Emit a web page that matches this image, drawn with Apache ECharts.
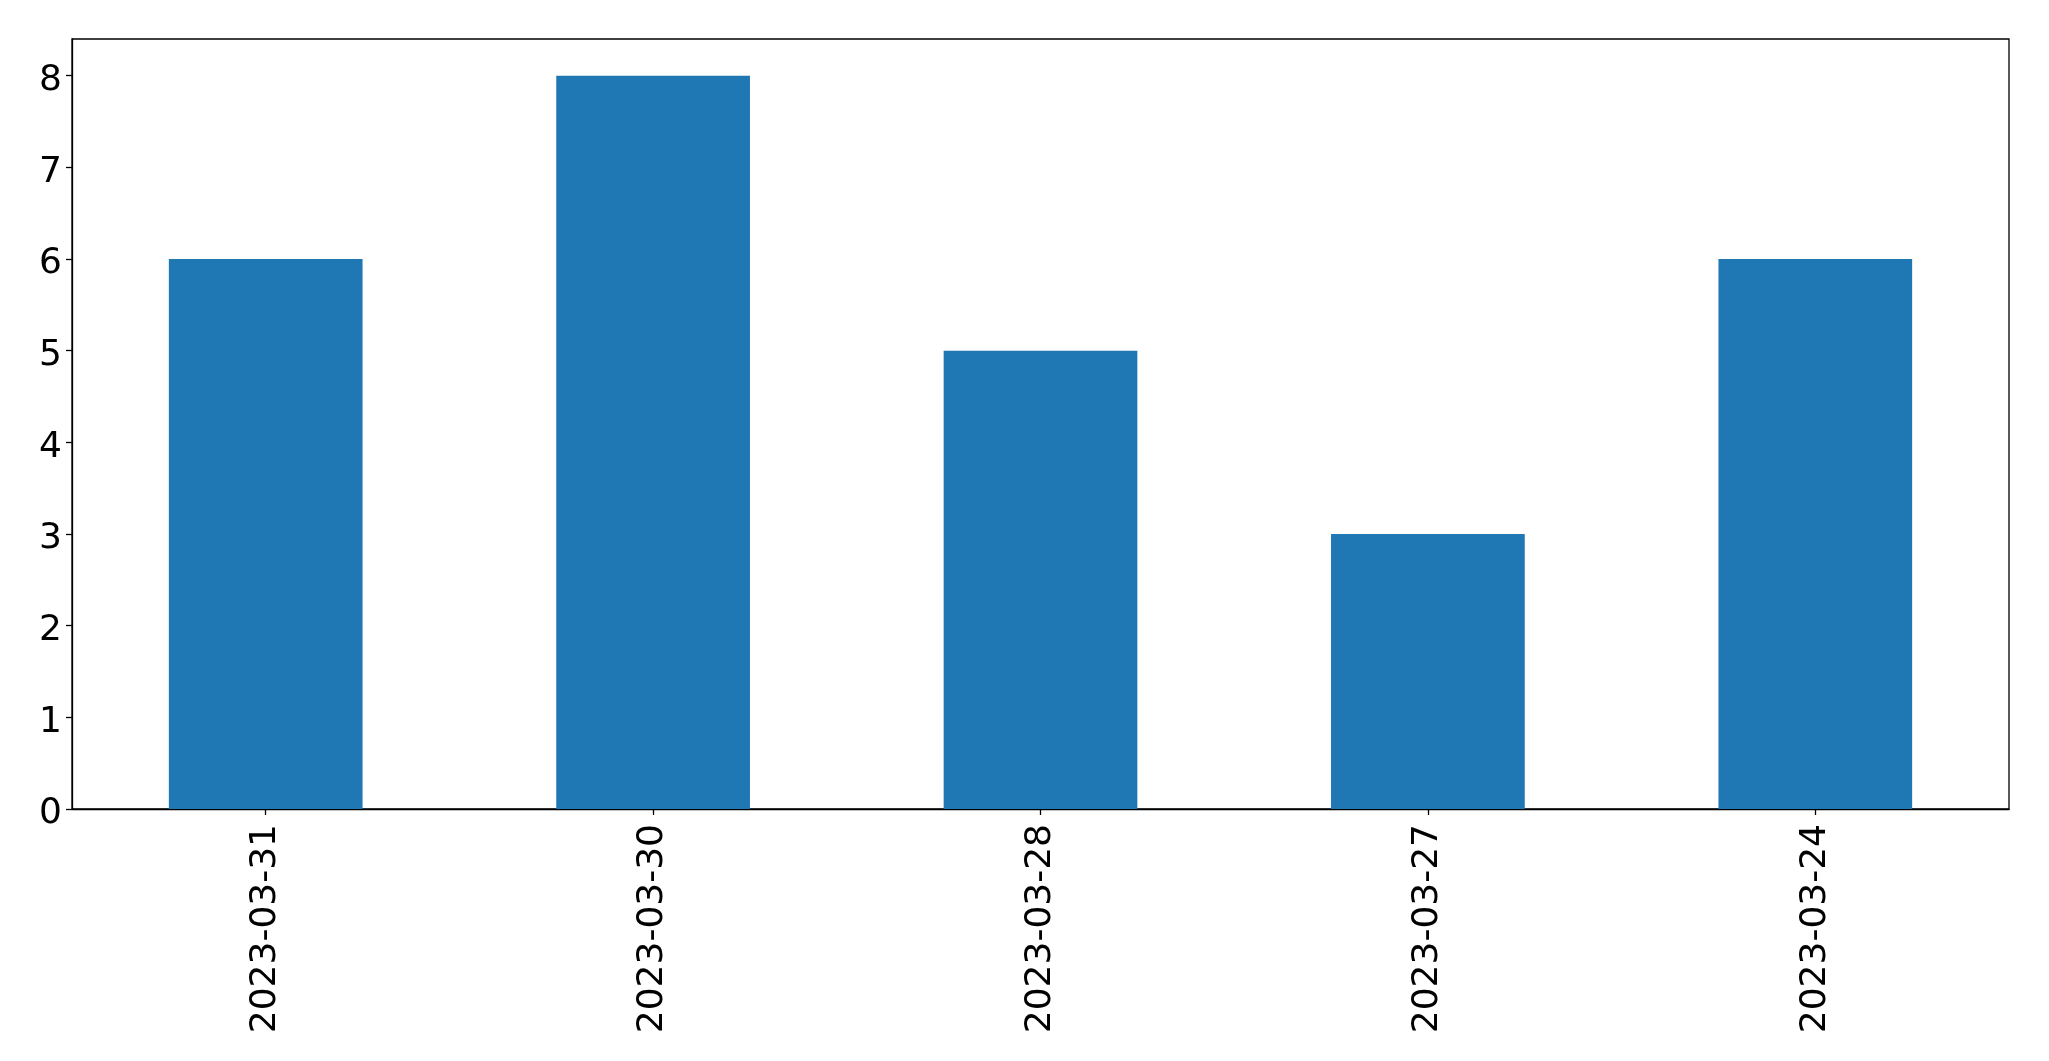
<!DOCTYPE html>
<html>
<head>
<meta charset="utf-8">
<script src="https://cdn.jsdelivr.net/npm/echarts@6/dist/echarts.min.js"></script>
<style>
html,body{margin:0;padding:0;background:#fff;}
#chart{width:2049px;height:1061px;}
</style>
</head>
<body>
<div id="chart"></div>
<script>
const categories = ["2023-03-31", "2023-03-30", "2023-03-28", "2023-03-27", "2023-03-24"];
const values = [6, 8, 5, 3, 6];
const yTicks = [0, 1, 2, 3, 4, 5, 6, 7, 8];

const chart = echarts.init(document.getElementById('chart'), null, {renderer: 'canvas'});
const font = 'DejaVu Sans';
chart.setOption({
  animation: false,
  backgroundColor: '#fff',
  grid: {
    left: 72, right: 40, top: 39, bottom: 252,
    show: true, borderColor: '#000', borderWidth: 1.3, backgroundColor: 'transparent'
  },
  xAxis: {
    type: 'category',
    data: categories,
    boundaryGap: true,
    axisLine: {show: true, lineStyle: {color: '#000', width: 1.3}},
    axisTick: {show: true, alignWithLabel: true, length: 6, inside: false, lineStyle: {color: '#000', width: 1.3}},
    axisLabel: {rotate: 90, fontSize: 36, fontFamily: font, color: '#000', margin: 15, interval: 0},
    splitLine: {show: false}
  },
  yAxis: {
    type: 'value',
    min: 0, max: 8.4,
    axisLine: {show: true, lineStyle: {color: '#000', width: 1.3}},
    axisTick: {show: true, length: 6, customValues: yTicks, lineStyle: {color: '#000', width: 1.3}},
    axisLabel: {
      fontSize: 36, fontFamily: font, color: '#000', margin: 10,
      customValues: yTicks,
      formatter: function (v) { return '{d|' + v + '}'; },
      rich: {d: {fontSize: 36, fontFamily: font, color: '#000', padding: [10, 0, 0, 0]}}
    },
    splitLine: {show: false}
  },
  series: [{
    type: 'bar',
    data: values,
    barWidth: '50%',
    itemStyle: {color: '#1f77b4'}
  }]
});
</script>
</body>
</html>
